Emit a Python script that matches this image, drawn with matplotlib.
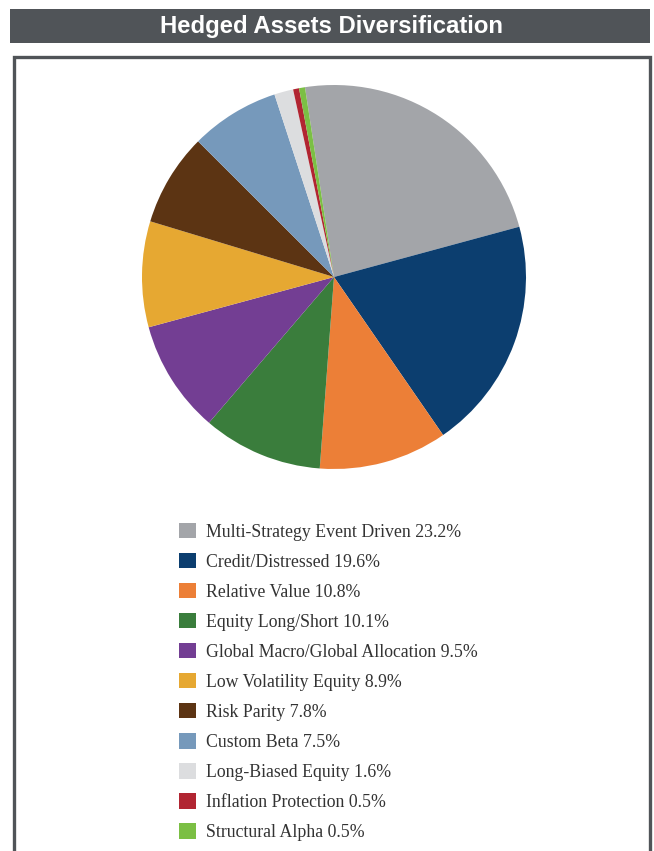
import matplotlib.pyplot as plt
from matplotlib.patches import Rectangle

# allocation by strategy, percent
strategies = [
    'Multi-Strategy Event Driven',
    'Credit/Distressed',
    'Relative Value',
    'Equity Long/Short',
    'Global Macro/Global Allocation',
    'Low Volatility Equity',
    'Risk Parity',
    'Custom Beta',
    'Long-Biased Equity',
    'Inflation Protection',
    'Structural Alpha',
]
weights = [23.2, 19.6, 10.8, 10.1, 9.5, 8.9, 7.8, 7.5, 1.6, 0.5, 0.5]
colors = [
    '#a3a5a9', '#0c3e6f', '#ec7f37', '#3a7d3c', '#733e93', '#e6a832',
    '#5c3413', '#7699bb', '#dcdddf', '#b12532', '#7bbf44',
]

W, H = 654, 851
fig = plt.figure(figsize=(W / 100, H / 100), dpi=100)

# header bar
fig.patches.append(Rectangle((10 / W, 1 - 43 / H), 640 / W, 34 / H,
                             transform=fig.transFigure, facecolor='#505458',
                             edgecolor='none'))
fig.text(331 / W, 1 - 26 / H, 'Hedged Assets Diversification',
         ha='center', va='center', color='white', fontsize=17.2,
         fontweight='bold', family='Liberation Sans')

# outer frame, open at the bottom
fig.patches.append(Rectangle((13.5 / W, -0.05), 636 / W, 1.05 - 57.5 / H,
                             transform=fig.transFigure, facecolor='none',
                             edgecolor='#505458', linewidth=2.4))

cx, cy, r = 334, 277, 192
ax = fig.add_axes([(cx - r) / W, (H - cy - r) / H, 2 * r / W, 2 * r / H])
wedges, _ = ax.pie(weights, colors=colors, startangle=98.7, counterclock=False,
                   wedgeprops=dict(linewidth=0))
ax.set_xlim(-1, 1)
ax.set_ylim(-1, 1)
ax.set_aspect('equal')
ax.axis('off')

labels = [f'{s} {w}%' for s, w in zip(strategies, weights)]
fig.legend(wedges, labels, loc='upper left',
           bbox_to_anchor=(170 / W, 1 - 514 / H),
           frameon=False, prop=dict(family='Liberation Serif', size=12.8),
           labelcolor='#333333', handlelength=0.95, handleheight=0.95,
           handletextpad=0.55, labelspacing=0.69, borderpad=0)

fig.savefig('out.png', dpi=100)
